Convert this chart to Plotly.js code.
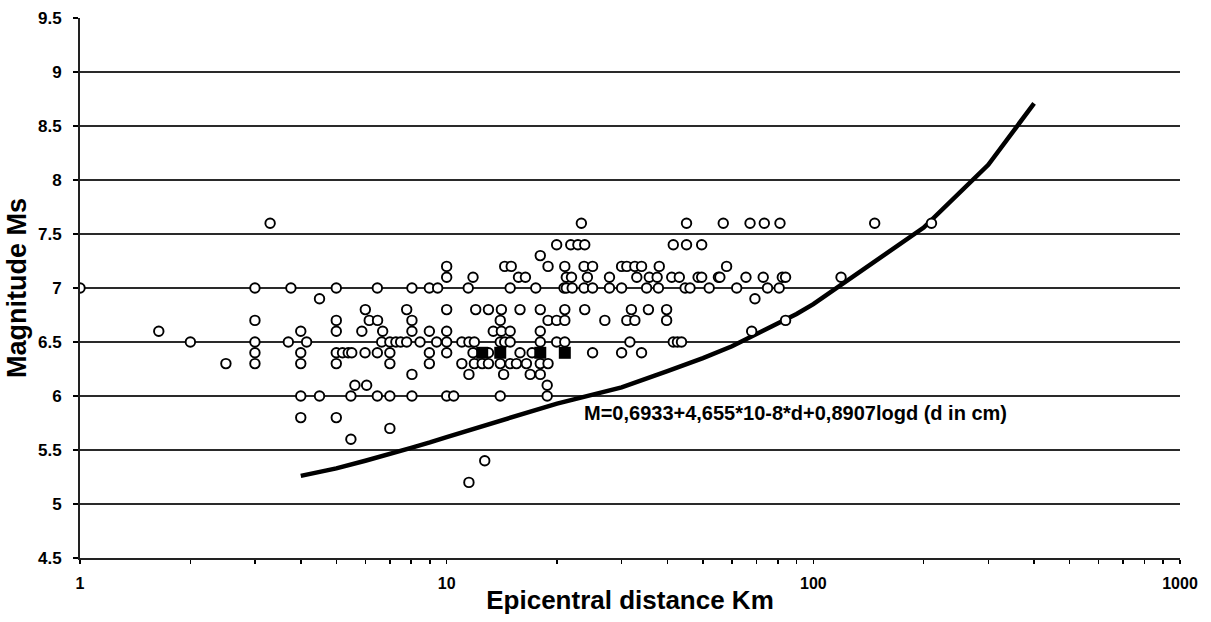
<!DOCTYPE html>
<html>
<head>
<meta charset="utf-8">
<script src="https://cdn.plot.ly/plotly-3.0.1.min.js"></script>
<style>html,body{margin:0;padding:0;background:#fff;}#chart{width:1211px;height:622px;}</style>
</head>
<body>
<div id="chart"></div>
<script>
// Observed earthquakes: epicentral distance (km) and magnitude Ms, grouped by magnitude row
const rowMagnitudes = [7.6, 7.4, 7.3, 7.2, 7.1, 7.0, 6.9, 6.8, 6.7, 6.6, 6.5, 6.4, 6.3, 6.2, 6.1, 6.0, 5.8, 5.7, 5.6, 5.4, 5.2];
const rowDistances = [
  [3.3, 23.3, 45.1, 56.8, 67.2, 73.5, 81.1, 147, 210],
  [19.95, 21.8, 22.8, 23.8, 41.5, 45.1, 49.6],
  [18.0],
  [10.0, 14.4, 15.0, 18.9, 21.0, 23.7, 25.0, 30.0, 31.0, 32.6, 34.0, 38.0, 58.0],
  [10.0, 11.8, 15.7, 16.4, 21.2, 21.9, 24.2, 27.8, 33.0, 35.7, 37.5, 41.1, 43.1, 48.5, 49.6, 55.1, 55.6, 65.5, 73.0, 82.3, 84.0, 119],
  [1.0, 3.0, 3.76, 5.0, 6.47, 8.04, 8.97, 9.45, 11.45, 14.9, 17.5, 20.9, 21.2, 22.0, 23.7, 25.0, 27.8, 30.0, 35.1, 37.8, 44.7, 46.1, 52.0, 61.8, 75.0, 80.7],
  [4.5, 69.3],
  [6.0, 7.78, 10.0, 12.0, 13.0, 14.1, 15.85, 18.0, 21.0, 23.8, 31.9, 35.5, 39.8],
  [3.0, 5.0, 6.15, 6.48, 8.04, 14.0, 18.9, 19.95, 21.0, 27.0, 31.0, 32.6, 39.8, 84],
  [1.64, 4.0, 5.0, 5.87, 6.69, 8.04, 8.97, 10.0, 13.4, 14.1, 14.9, 18.0, 67.9],
  [2.0, 3.0, 3.7, 4.15, 6.65, 7.0, 7.27, 7.49, 7.78, 8.46, 9.39, 10.0, 11.0, 11.5, 11.9, 14.0, 14.4, 14.9, 18.0, 19.95, 21.0, 31.6, 41.5, 42.6, 43.7],
  [3.0, 4.0, 5.0, 5.2, 5.39, 5.51, 5.99, 6.47, 7.0, 8.97, 10.0, 11.8, 13.0, 15.85, 17.1, 25.0, 30.0, 34.0],
  [2.5, 3.0, 4.0, 5.0, 7.0, 8.97, 11.0, 11.9, 12.5, 13.0, 14.0, 14.9, 15.5, 16.5, 18.0, 18.9],
  [8.04, 11.5, 14.3, 16.9, 18.0],
  [5.62, 6.05, 18.8],
  [4.0, 4.5, 5.48, 6.47, 7.0, 8.04, 10.0, 10.45, 14.0, 18.8],
  [4.0, 5.0],
  [7.0],
  [5.48],
  [12.7],
  [11.5]
];

// Highlighted events (filled squares)
const squareDistances = [12.5, 14.0, 18.0, 21.0];
const squareMagnitudes = [6.4, 6.4, 6.4, 6.4];

// Threshold curve M(d)
const curveDistances = [4, 5, 6, 7, 8, 9, 10, 20, 30, 40, 50, 60, 70, 80, 90, 100, 200, 300, 400];
const curveMagnitudes = [5.26, 5.33, 5.40, 5.46, 5.52, 5.57, 5.62, 5.93, 6.08, 6.23, 6.35, 6.46, 6.57, 6.67, 6.76, 6.85, 7.56, 8.14, 8.71];

// Axis ticks
const xTickVals = [1,2,3,4,5,6,7,8,9,10,20,30,40,50,60,70,80,90,100,200,300,400,500,600,700,800,900,1000];
const xTickText = ['1','','','','','','','','','10','','','','','','','','','100','','','','','','','','','1000'];
const yTickVals = [4.5, 5, 5.5, 6, 6.5, 7, 7.5, 8, 8.5, 9, 9.5];
const yTickText = ['4.5', '5', '5.5', '6', '6.5', '7', '7.5', '8', '8.5', '9', '9.5'];

const annotationText = 'M=0,6933+4,655*10-8*d+0,8907logd (d in cm)';
const xTitle = 'Epicentral distance Km';
const yTitle = 'Magnitude Ms';

const obsX = [], obsY = [];
rowDistances.forEach((row, i) => row.forEach(d => { obsX.push(d); obsY.push(rowMagnitudes[i]); }));

const F = 'Liberation Sans, Arial, sans-serif';

const traces = [
  {
    x: curveDistances, y: curveMagnitudes, type: 'scatter', mode: 'lines',
    line: {color: '#000', width: 4.5}, hoverinfo: 'skip'
  },
  {
    x: obsX, y: obsY, type: 'scatter', mode: 'markers',
    marker: {symbol: 'circle', size: 9.5, color: '#fff', line: {color: '#000', width: 1.9}}
  },
  {
    x: squareDistances, y: squareMagnitudes, type: 'scatter', mode: 'markers',
    marker: {symbol: 'square', size: 12, color: '#000', line: {color: '#000', width: 0}}
  }
];

const layout = {
  width: 1211, height: 622,
  margin: {l: 80, r: 31, t: 17.5, b: 64, pad: 0},
  paper_bgcolor: '#fff', plot_bgcolor: '#fff',
  showlegend: false,
  font: {family: F, color: '#000'},
  xaxis: {
    type: 'log', range: [0, 3],
    tickmode: 'array', tickvals: xTickVals, ticktext: xTickText,
    ticks: 'outside', ticklen: 4, tickwidth: 1.5, tickcolor: '#000',
    showgrid: false, zeroline: false,
    showline: true, linecolor: '#222', linewidth: 2,
    tickfont: {family: F, size: 16, weight: 'bold', color: '#000'},
    ticklabelstandoff: 6,
    title: {text: xTitle, font: {family: F, size: 26, weight: 'bold', color: '#000'}, standoff: 0}
  },
  yaxis: {
    range: [4.5, 9.5],
    tickmode: 'array', tickvals: yTickVals, ticktext: yTickText,
    ticks: 'outside', ticklen: 5, tickwidth: 1.5, tickcolor: '#000',
    showgrid: true, gridcolor: '#2a2a2a', gridwidth: 1.7,
    zeroline: false,
    showline: true, linecolor: '#222', linewidth: 2,
    tickfont: {family: F, size: 17, weight: 'bold', color: '#000'},
    ticklabelstandoff: 8,
    title: {text: yTitle, font: {family: F, size: 27, weight: 'bold', color: '#000'}, standoff: 4}
  },
  annotations: [{
    xref: 'paper', yref: 'paper', x: 0.456, y: 0.268, xanchor: 'left', yanchor: 'middle',
    text: annotationText, showarrow: false,
    font: {family: F, size: 20, weight: 'bold', color: '#000'}
  }]
};

Plotly.newPlot('chart', traces, layout, {displayModeBar: false, staticPlot: true});
</script>
</body>
</html>
